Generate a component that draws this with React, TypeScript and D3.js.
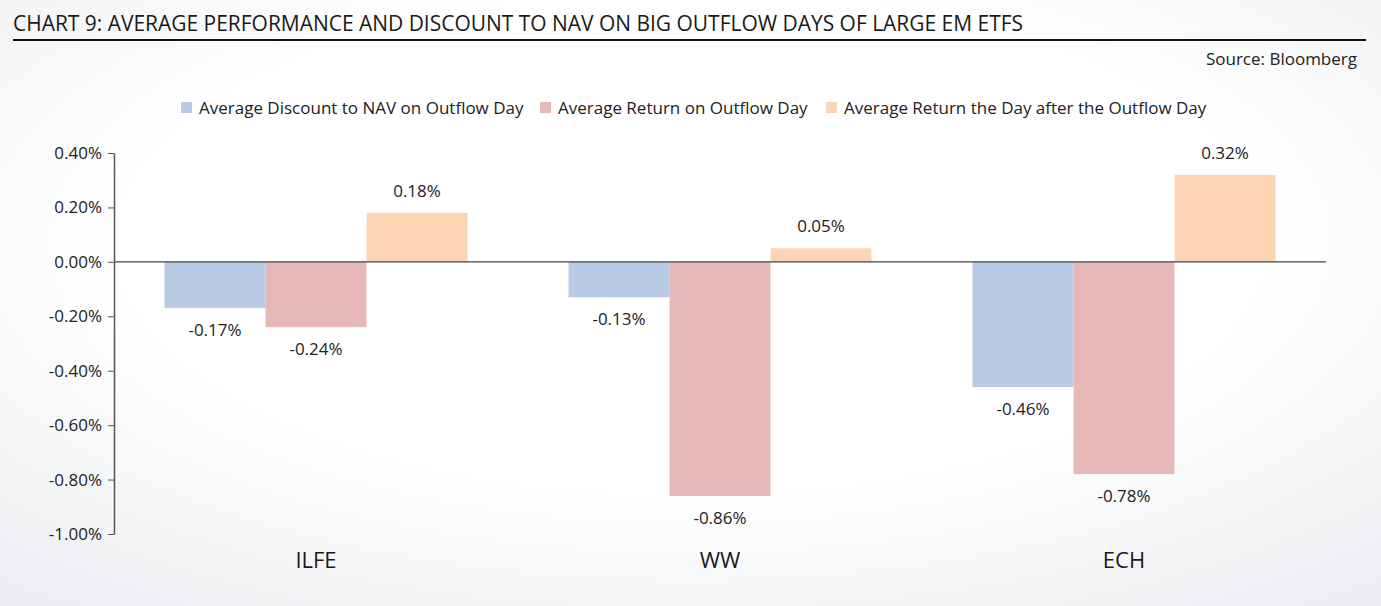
import React, { useEffect, useRef } from 'react';
import * as d3 from 'd3';

const categories = ['ILFE', 'WW', 'ECH'];
const seriesNames = [
  'Average Discount to NAV on Outflow Day',
  'Average Return on Outflow Day',
  'Average Return the Day after the Outflow Day',
];
const discountToNav = [-0.17, -0.13, -0.46];
const returnOnDay = [-0.24, -0.86, -0.78];
const returnDayAfter = [0.18, 0.05, 0.32];
const yTicks = [0.4, 0.2, 0, -0.2, -0.4, -0.6, -0.8, -1.0];
const colors = ['#b9cbe4', '#e6b9b8', '#fcd5b5'];

const W = 1381;
const H = 606;

export default function App() {
  const svgRef = useRef<SVGSVGElement>(null);

  useEffect(() => {
    if (!svgRef.current) return;
    const svg = d3.select(svgRef.current);
    svg.selectAll('*').remove();
    const font = "'Open Sans', sans-serif";

    // soft vignette background
    const defs = svg.append('defs');
    const bg = defs.append('radialGradient')
      .attr('id', 'bg-grad')
      .attr('cx', '50%').attr('cy', '40%').attr('r', '75%');
    bg.append('stop').attr('offset', '55%').attr('stop-color', '#ffffff');
    bg.append('stop').attr('offset', '100%').attr('stop-color', '#eceef1');
    svg.append('rect').attr('width', W).attr('height', H).attr('fill', 'url(#bg-grad)');

    // title
    svg.append('text')
      .attr('x', 13).attr('y', 31)
      .attr('font-family', font).attr('font-size', 21)
      .attr('fill', '#1a1a1a')
      .attr('textLength', 1010).attr('lengthAdjust', 'spacingAndGlyphs')
      .text('CHART 9: AVERAGE PERFORMANCE AND DISCOUNT TO NAV ON BIG OUTFLOW DAYS OF LARGE EM ETFS');
    svg.append('line')
      .attr('x1', 13).attr('x2', 1366).attr('y1', 40).attr('y2', 40)
      .attr('stroke', '#111').attr('stroke-width', 2);
    svg.append('text')
      .attr('x', 1357).attr('y', 65).attr('text-anchor', 'end')
      .attr('font-family', font).attr('font-size', 17).attr('fill', '#222')
      .text('Source: Bloomberg');

    // legend
    const legendX = [181, 540, 826];
    seriesNames.forEach((name, i) => {
      svg.append('rect')
        .attr('x', legendX[i]).attr('y', 102).attr('width', 11).attr('height', 11)
        .attr('fill', colors[i]);
      svg.append('text')
        .attr('x', legendX[i] + 18).attr('y', 114)
        .attr('font-family', font).attr('font-size', 17).attr('fill', '#222')
        .text(name);
    });

    const left = 114;
    const right = 1326;
    const y = d3.scaleLinear().domain([-1.0, 0.4]).range([534, 153]);
    const x0 = d3.scaleBand<string>()
      .domain(categories)
      .range([left, right])
      .paddingInner(0.25)
      .paddingOuter(0.125);
    const x1 = d3.scaleBand<number>()
      .domain([0, 1, 2])
      .range([0, x0.bandwidth()]);

    const series = [discountToNav, returnOnDay, returnDayAfter];

    // bars
    categories.forEach((cat, ci) => {
      const g = svg.append('g').attr('transform', `translate(${x0(cat)},0)`);
      series.forEach((vals, si) => {
        const v = vals[ci];
        g.append('rect')
          .attr('x', x1(si) as number)
          .attr('width', x1.bandwidth())
          .attr('y', y(Math.max(0, v)))
          .attr('height', Math.abs(y(v) - y(0)))
          .attr('fill', colors[si]);
        g.append('text')
          .attr('x', (x1(si) as number) + x1.bandwidth() / 2)
          .attr('y', v >= 0 ? y(v) - 16 : y(v) + 28)
          .attr('text-anchor', 'middle')
          .attr('font-family', font).attr('font-size', 17).attr('fill', '#222')
          .text(`${v.toFixed(2)}%`);
      });
    });

    // zero line
    svg.append('line')
      .attr('x1', left).attr('x2', right)
      .attr('y1', y(0)).attr('y2', y(0))
      .attr('stroke', '#444').attr('stroke-width', 1.2);

    // y axis
    const yAxis = svg.append('g')
      .attr('transform', `translate(${left},0)`)
      .call(d3.axisLeft(y).tickValues(yTicks).tickSize(6).tickSizeOuter(0)
        .tickFormat(d => `${(+d).toFixed(2)}%`));
    yAxis.select('.domain').attr('stroke', '#555').attr('stroke-width', 1.5);
    yAxis.selectAll('.tick line').attr('stroke', '#555');
    yAxis.selectAll('.tick text')
      .attr('font-family', font).attr('font-size', 17).attr('fill', '#222')
      .attr('x', -12);

    // category labels
    categories.forEach(cat => {
      svg.append('text')
        .attr('x', (x0(cat) as number) + x0.bandwidth() / 2)
        .attr('y', 568)
        .attr('text-anchor', 'middle')
        .attr('font-family', font).attr('font-size', 22).attr('fill', '#1a1a1a')
        .text(cat);
    });
  }, []);

  return (
    <svg
      ref={svgRef}
      width={W}
      height={H}
      style={{ position: 'absolute', left: 0, top: 0, display: 'block' }}
    />
  );
}
